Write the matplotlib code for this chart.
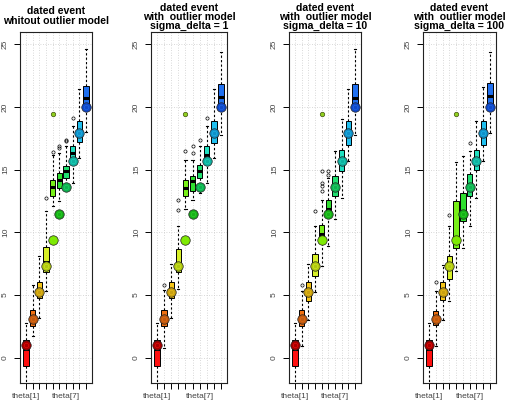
import matplotlib
matplotlib.use("Agg")
import matplotlib.pyplot as plt

plt.rcParams['font.family'] = ['Liberation Sans', 'DejaVu Sans']

labels = ['theta[1]', '', '', '', '', '', 'theta[7]', '', '', '']
truth = [1.0, 3.1, 5.2, 7.3, 9.4, 11.5, 13.6, 15.7, 17.9, 20.0]
odd_value = 19.4  # small green point drawn over theta[5]

titles = ['dated event\nwhitout outlier model',
          'dated event\nwith  outlier model\nsigma_delta = 1',
          'dated event\nwith  outlier model\nsigma_delta = 10',
          'dated event\nwith  outlier model\nsigma_delta = 100']

# panel 1: no outlier model
q1_a = [-0.7, 2.5, 4.8, 6.8, 12.9, 13.5, 14.3, 15.5, 17.2, 19.9]
med_a = [0.7, 3.2, 5.4, 7.6, 13.6, 14.2, 14.9, 16.3, 18.0, 20.7]
q3_a = [1.4, 3.8, 6.0, 8.8, 14.2, 14.7, 15.3, 16.9, 18.9, 21.7]
lo_a = [-2.3, 1.7, 3.2, 5.3, 12.1, 12.5, 13.9, 13.9, 15.9, 18.0]
hi_a = [2.8, 5.8, 8.1, 11.7, 16.2, 16.3, 16.9, 18.5, 21.4, 24.6]
out_a = [[], [], [], [12.7], [16.4], [16.7, 16.9], [17.3, 17.4], [19.1], [], []]

# panel 2: sigma_delta = 1
q1_b = [-0.7, 2.5, 4.8, 6.8, 12.9, 13.3, 14.3, 15.6, 17.1, 19.9]
med_b = [0.7, 3.2, 5.4, 7.5, 13.5, 14.1, 14.9, 16.2, 17.9, 20.8]
q3_b = [1.4, 3.8, 6.0, 8.7, 14.2, 14.5, 15.4, 16.9, 18.9, 21.8]
lo_b = [-2.3, 0.8, 3.2, 5.5, 11.9, 12.6, 13.1, 13.9, 15.9, 17.8]
hi_b = [2.8, 5.4, 7.5, 10.5, 15.8, 15.8, 16.9, 18.5, 21.4, 24.4]
out_b = [[], [5.8], [], [11.8, 12.6], [16.5], [16.3, 16.9], [17.4], [19.1], [], []]

# panel 3: sigma_delta = 10
q1_c = [-0.7, 2.5, 4.5, 6.5, 9.15, 11.3, 12.9, 14.9, 17.0, 19.8]
med_c = [0.7, 3.2, 5.4, 7.4, 9.9, 11.9, 13.7, 15.8, 17.9, 20.7]
q3_c = [1.4, 3.8, 6.0, 8.3, 10.6, 12.6, 14.5, 16.6, 18.9, 21.8]
lo_c = [-2.3, 0.9, 3.0, 5.2, 7.3, 8.9, 11.1, 12.7, 15.7, 17.8]
hi_c = [2.8, 5.3, 7.5, 10.5, 12.6, 14.3, 16.5, 19.0, 21.4, 24.6]
out_c = [[], [5.8], [], [11.7], [13.3, 13.7, 13.9, 14.9], [14.6, 14.9], [], [], [], []]

# panel 4: sigma_delta = 100
q1_d = [-0.7, 2.6, 4.6, 6.3, 8.75, 10.9, 12.9, 14.95, 17.0, 19.9]
med_d = [0.7, 3.2, 5.4, 7.3, 9.4, 11.5, 13.7, 15.8, 17.9, 20.9]
q3_d = [1.4, 3.7, 6.0, 8.1, 12.5, 13.1, 14.65, 16.6, 18.9, 21.9]
lo_d = [-2.3, 0.9, 3.0, 4.5, 6.9, 8.75, 10.5, 12.7, 15.7, 17.9]
hi_d = [2.8, 5.3, 7.4, 10.5, 15.6, 16.1, 16.5, 18.9, 21.6, 24.4]
out_d = [[], [6.0], [], [11.4], [], [], [17.1], [], [], []]

box_colors = ['#ff1010', '#f07010', '#f5c518', '#d8f028', '#78f018',
              '#30e030', '#20e070', '#20e0c0', '#20c0f0', '#2070f0']
dot_colors = ['#a80000', '#c05a10', '#c8a010', '#b0c810', '#80e800',
              '#18b018', '#10b050', '#10b0a0', '#1090c8', '#1048c8']

panels = [(q1_a, med_a, q3_a, lo_a, hi_a, out_a),
          (q1_b, med_b, q3_b, lo_b, hi_b, out_b),
          (q1_c, med_c, q3_c, lo_c, hi_c, out_c),
          (q1_d, med_d, q3_d, lo_d, hi_d, out_d)]

# axes edges in pixels (left, right)
edges = [(20, 92), (151, 227), (289, 361), (423, 496)]
title_pad = [6, 2, 2, 2]

W, H = 507, 408
fig = plt.figure(figsize=(W / 100, H / 100), dpi=100)

for k, (q1, med, q3, lo, hi, out) in enumerate(panels):
    l, r = edges[k]
    ax = fig.add_axes([l / W, (H - 383) / H, (r - l) / W, (383 - 32) / H])
    stats = []
    for i in range(10):
        stats.append(dict(q1=q1[i], med=med[i], q3=q3[i], whislo=lo[i],
                          whishi=hi[i], fliers=out[i]))
    pos = list(range(1, 11))
    bp = ax.bxp(stats, positions=pos, widths=0.8, patch_artist=True,
                capwidths=0.3,
                boxprops=dict(edgecolor='black', linewidth=0.7),
                medianprops=dict(color='black', linewidth=2.2),
                whiskerprops=dict(color='black', linestyle=(0, (2, 2)), linewidth=0.8),
                capprops=dict(color='black', linewidth=0.8),
                flierprops=dict(marker='o', markersize=2.3, markerfacecolor='none',
                                markeredgecolor='black', markeredgewidth=0.5))
    for patch, c in zip(bp['boxes'], box_colors):
        patch.set_facecolor(c)
    for i in range(10):
        ax.plot(pos[i], truth[i], 'o', ms=6.8, mfc=dot_colors[i],
                mec='#202020', mew=0.5, zorder=5)
        ax.plot(pos[i], truth[i], 'o', ms=3.2, mfc='none',
                mec=box_colors[i], mew=0.5, alpha=0.7, zorder=6)
    ax.plot(5, odd_value, 'o', ms=3.2, mfc='#90d020', mec='#405010',
            mew=0.5, zorder=6)

    ax.set_xlim(0.12, 10.88)
    ax.set_ylim(-2.02, 25.98)
    ax.set_xticks(pos)
    ax.set_xticklabels(labels)
    ax.set_yticks([0, 5, 10, 15, 20, 25])
    ax.set_yticklabels(['0', '5', '10', '15', '20', '25'], rotation=90, va='center')
    ax.tick_params(axis='both', labelsize=6, length=4, width=0.7,
                   labelcolor='#444444', pad=3)
    ax.tick_params(axis='y', pad=4)
    ax.grid(True, color='#cccccc', linestyle=(0, (1, 2)), linewidth=0.6)
    ax.set_axisbelow(True)
    for s in ax.spines.values():
        s.set_linewidth(0.8)
        s.set_color('#222222')
    ax.set_title(titles[k], fontsize=7.6, fontweight='bold', linespacing=0.92,
                 pad=title_pad[k])

fig.savefig('out.png', dpi=100)
